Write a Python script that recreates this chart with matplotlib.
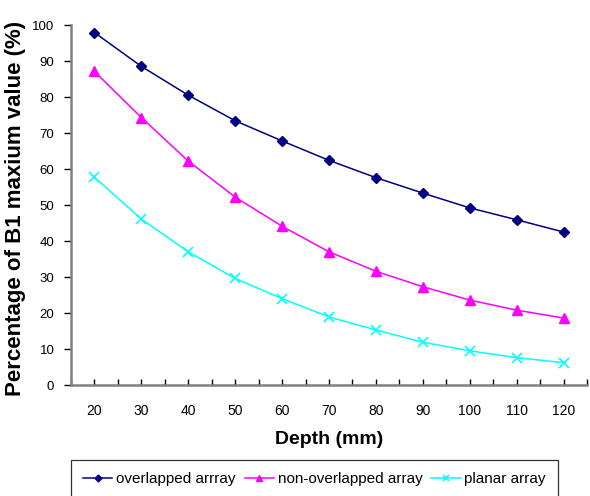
import numpy as np
import matplotlib
matplotlib.use('Agg')
import matplotlib.pyplot as plt

plt.rcParams['font.family'] = ['Liberation Sans', 'DejaVu Sans']

depth = [20, 30, 40, 50, 60, 70, 80, 90, 100, 110, 120]
overlapped = [97.9, 88.5, 80.5, 73.4, 67.8, 62.4, 57.6, 53.3, 49.2, 45.9, 42.5]
non_overlapped = [87.1, 74.3, 62.2, 52.2, 44.1, 37.0, 31.6, 27.3, 23.6, 20.8, 18.6]
planar = [57.7, 46.1, 37.0, 29.6, 24.0, 18.9, 15.3, 11.9, 9.5, 7.6, 6.2]

W, H = 590, 496
fig = plt.figure(figsize=(W / 100, H / 100), dpi=100)
ax = fig.add_axes([71 / W, 1 - 385 / H, (587 - 71) / W, (385 - 25) / H])

ax.plot(depth, overlapped, color='#000080', marker='D', markersize=5, lw=1.1,
        label='overlapped arrray')
ax.plot(depth, non_overlapped, color='#FF00FF', marker='^', markersize=6.5, lw=1.1,
        label='non-overlapped array')
ax.plot(depth, planar, color='#00FFFF', marker='x', markersize=6.5, mew=1.2, lw=1.1,
        label='planar array')

ax.set_xlim(15, 125)
ax.set_ylim(0, 100)
ax.set_xticks(depth)
ax.set_xticks(np.arange(15, 126, 10), minor=True)
ax.set_yticks(np.arange(0, 101, 10))

for s in ['top', 'right']:
    ax.spines[s].set_visible(False)
for s in ['left', 'bottom']:
    ax.spines[s].set_color('#808080')
    ax.spines[s].set_linewidth(1.8)

ax.tick_params(axis='x', which='both', direction='in', length=4, width=1,
               color='black', labelsize=10, pad=14)
ax.tick_params(axis='y', direction='out', length=5, width=1, color='black',
               labelsize=9.5, pad=7)

ax.set_xlabel('Depth (mm)', fontsize=14, fontweight='bold', labelpad=9)
ax.set_ylabel('Percentage of B1 maxium value (%)', fontsize=16, fontweight='bold')
ax.yaxis.set_label_coords(-0.088, 0.49)

leg = fig.legend(loc='upper left', bbox_to_anchor=(71 / W, 1 - 460 / H), ncol=3,
                 fontsize=11, frameon=True, fancybox=False, edgecolor='black',
                 handlelength=1.9, handletextpad=0.25, columnspacing=0.6,
                 borderpad=0.8, borderaxespad=0, markerscale=0.7)
leg.get_frame().set_linewidth(0.9)

fig.savefig('out.png', dpi=100)
